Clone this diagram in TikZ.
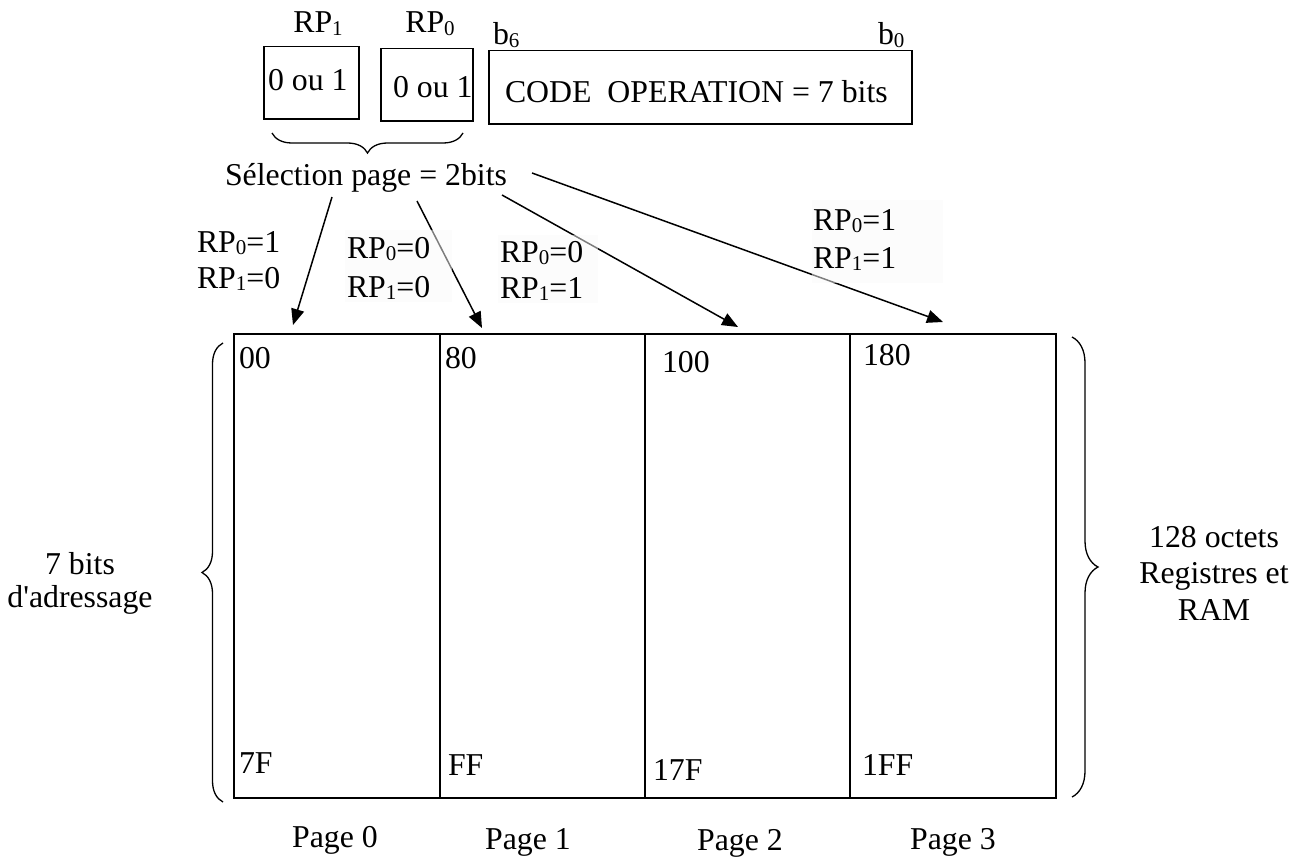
\documentclass[tikz,border=0pt]{standalone}
\usepackage{fontspec}
\setmainfont{Liberation Serif}[Ligatures=TeXOff]
\usetikzlibrary{arrows.meta,decorations.pathreplacing}

% small lowered index, as in RP_0 or b_6
\newcommand{\idx}[1]{\raisebox{-2.5pt}{\fontsize{21}{21}\selectfont #1}}

\begin{document}
\begin{tikzpicture}[x=1pt,y=-1pt,
  txt/.style={font=\fontsize{31.8}{37}\selectfont, inner sep=0pt, outer sep=0pt},
  bitbox/.style={draw, line width=1.5pt, inner sep=0pt, anchor=north west},
  pagebox/.style={draw, line width=1.8pt, inner sep=0pt, anchor=north west,
                  minimum height=464pt},
  ptr/.style={line width=1.5pt, -{Triangle[length=16pt,width=13pt]}},
  brc/.style={decorate, decoration={brace, amplitude=#1}, line width=1.3pt},
  condbg/.style={fill=black!2, fill opacity=0.5, draw=none},
]
\useasboundingbox (0,0) rectangle (1305,859);

% ---- instruction word: page bits + operation code
\node[bitbox, minimum width=95pt, minimum height=72pt]  (rp1box) at (263,46) {};
\node[bitbox, minimum width=92pt, minimum height=72pt]  (rp0box) at (380,48) {};
\node[bitbox, minimum width=423pt, minimum height=73pt] (opbox)  at (488,50) {};

\node[txt, anchor=base] (rp1lbl) at (318,33) {RP\idx{1}};
\node[txt, anchor=base] (rp0lbl) at (430,33) {RP\idx{0}};
\node[txt, anchor=base west] (b6) at (493,45) {b\idx{6}};
\node[txt, anchor=base west] (b0) at (878,45) {b\idx{0}};

\node[txt, anchor=base west] (rp1val) at (268,90)  {0 ou 1};
\node[txt, anchor=base west] (rp0val) at (393,97)  {0 ou 1};
\node[txt, anchor=base west] (optxt)  at (505,102) {CODE\ \ OPERATION = 7 bits};

% ---- page selection
\draw[brc=20pt] (463,133) -- (272,133);
\node[txt, anchor=base] (sel) at (366,185) {Sélection page = 2bits};

% ---- memory pages
\node[pagebox, minimum width=206pt] (p0) at (233,333) {};
\node[pagebox, minimum width=205pt] (p1) at (439,333) {};
\node[pagebox, minimum width=205pt] (p2) at (644,333) {};
\node[pagebox, minimum width=206pt] (p3) at (849,333) {};

% ---- arrows from the selection bits to each page
\coordinate (s1) at (332,197);
\coordinate (s2) at (417,201);
\coordinate (s3) at (502,195);
\coordinate (s4) at (532,173);
\coordinate (e1) at (293,325);
\coordinate (e2) at (482,328);
\coordinate (e3) at (738,327);
\coordinate (e4) at (943,322);
\draw[ptr] (s1) -- (e1);
\draw[ptr] (s2) -- (e2);
\draw[ptr] (s3) -- (e3);
\draw[ptr] (s4) -- (e4);

% label backgrounds
\fill[condbg] (345,230) rectangle (452,302);
\fill[condbg] (498,235) rectangle (598,303);
\fill[condbg] (812,200) rectangle (943,283);

% bit values selecting each page
\node[txt, anchor=base west] (c1a) at (197,252) {RP\idx{0}=1};
\node[txt, anchor=base west] (c1b) at (197,288) {RP\idx{1}=0};
\node[txt, anchor=base west] (c2a) at (347,258) {RP\idx{0}=0};
\node[txt, anchor=base west] (c2b) at (347,297) {RP\idx{1}=0};
\node[txt, anchor=base west] (c3a) at (500,262) {RP\idx{0}=0};
\node[txt, anchor=base west] (c3b) at (500,298) {RP\idx{1}=1};
\node[txt, anchor=base west] (c4a) at (813,230) {RP\idx{0}=1};
\node[txt, anchor=base west] (c4b) at (813,268) {RP\idx{1}=1};

% ---- addresses
\node[txt, anchor=base west] (a00)  at (239,368) {00};
\node[txt, anchor=base west] (a80)  at (445,368) {80};
\node[txt, anchor=base west] (a100) at (662,372) {100};
\node[txt, anchor=base west] (a180) at (863,365) {180};
\node[txt, anchor=base west] (a7F)  at (239,773) {7F};
\node[txt, anchor=base west] (aFF)  at (448,775) {FF};
\node[txt, anchor=base west] (a17F) at (653,780) {17F};
\node[txt, anchor=base west] (a1FF) at (862,775) {1FF};

% ---- page names
\node[txt, anchor=base] (n0) at (335,847) {Page 0};
\node[txt, anchor=base] (n1) at (528,849) {Page 1};
\node[txt, anchor=base] (n2) at (740,850) {Page 2};
\node[txt, anchor=base] (n3) at (953,849) {Page 3};

% ---- side braces
\draw[brc=21pt] (223,802) -- (223,343);
\node[txt, anchor=base] (l1) at (80,574) {7 bits};
\node[txt, anchor=base] (l2) at (80,607) {d'adressage};

\draw[brc=26pt] (1072,337) -- (1072,797);
\node[txt, anchor=base] (r1) at (1214,547) {128 octets};
\node[txt, anchor=base] (r2) at (1214,583) {Registres et};
\node[txt, anchor=base] (r3) at (1214,620) {RAM};
\end{tikzpicture}
\end{document}
